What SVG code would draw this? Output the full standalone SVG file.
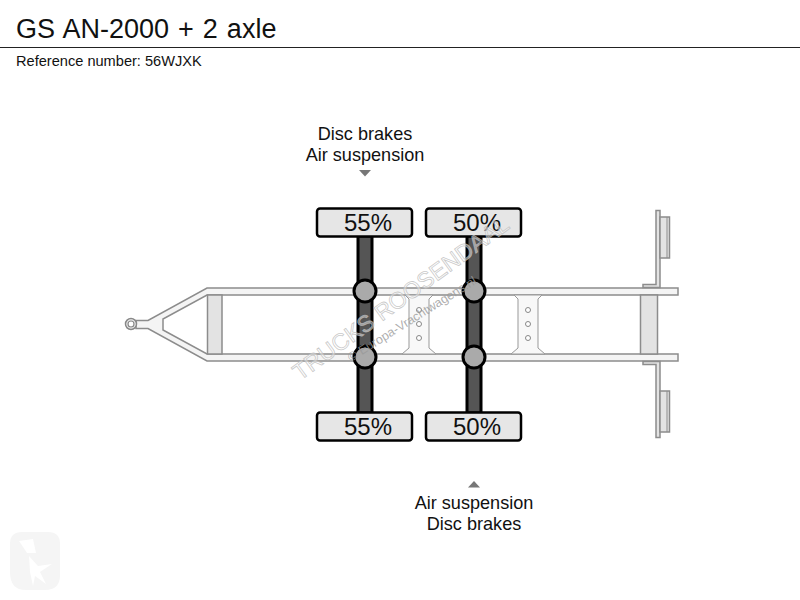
<svg xmlns="http://www.w3.org/2000/svg" width="800" height="600" viewBox="0 0 800 600">
<style>
text{font-family:"Liberation Sans",Arial,sans-serif;fill:#111}
.lbl{font-size:18.100px;text-anchor:middle}
.pct{font-size:24px;text-anchor:middle}
.frame{fill:#f4f4f4;stroke:#8c8c8c;stroke-width:1.5}
.bar{fill:#e3e3e3;stroke:#8c8c8c;stroke-width:1.5}
.cross{fill:#f8f8f8;stroke:#999;stroke-width:1}
.hole{fill:#fff;stroke:#888;stroke-width:1}
.axle{fill:#555;stroke:#000;stroke-width:3}
.hub{fill:#aaa;stroke:#000;stroke-width:3}
.box{fill:#e6e6e6;stroke:#000;stroke-width:2.5}
.tri{fill:#777}
</style>
<rect width="800" height="600" fill="#fff"/>
<g id="header">
<text x="16" y="38" style="font-size:27px;word-spacing:1.500px">GS AN-2000 + 2 axle</text>
<line x1="0" y1="47.500" x2="800" y2="47.500" stroke="#222" stroke-width="1"/>
<text x="16" y="66" style="font-size:14.600px">Reference number: 56WJXK</text>
</g>
<g id="logo">
<path d="M22 532H48Q60 532 60 544V575Q60 590 45 590H26Q10 590 10 572V544Q10 532 22 532Z" fill="#f5f5f5"/>
<path d="M19 541L33 539L36 553L27 553ZM29 556L38 566L52 564L40 572L46 584L35 576L33 586L30 572Z" fill="#fff"/>
</g>
<g id="chassis">
<path class="frame" d="M207 288H678V295H207L163 319V330L207 354H678V361H207L148 328.500H136V320.500H148Z"/>
<rect class="bar" x="207.500" y="295" width="14.500" height="59"/>
<rect class="bar" x="640.500" y="295" width="17" height="59"/>
<circle cx="131" cy="324" r="5.500" fill="#eee" stroke="#888" stroke-width="1.500"/>
<circle cx="131" cy="324" r="3" fill="#fff" stroke="#888" stroke-width="1.200"/>
</g>
<g id="cross-members">
<path class="cross" d="M405 295L409 299V348L402 354H436L429 348V299L433 295Z"/>
<path class="cross" d="M514 295L518 299V348L511 354H545L538 348V299L542 295Z"/>
<circle class="hole" cx="419" cy="310" r="2.500"/><circle class="hole" cx="419" cy="324" r="2.500"/><circle class="hole" cx="419" cy="338" r="2.500"/>
<circle class="hole" cx="528" cy="310" r="2.500"/><circle class="hole" cx="528" cy="324" r="2.500"/><circle class="hole" cx="528" cy="338" r="2.500"/>
</g>
<g id="rear-top">
<path class="bar" d="M656 210.500H660V287.500H643V284.500H656Z"/>
<rect class="bar" x="660" y="217" width="9.500" height="41"/>
<line x1="667" y1="217" x2="667" y2="258" stroke="#8c8c8c"/>
</g>
<g id="rear-bottom">
<path class="bar" d="M656 437.500H660V361.500H643V364.500H656Z"/>
<rect class="bar" x="660" y="391" width="9.500" height="41"/>
<line x1="667" y1="391" x2="667" y2="432" stroke="#8c8c8c"/>
</g>
<g id="axle-1">
<rect class="axle" x="358" y="236" width="14" height="177"/>
<circle class="hub" cx="365" cy="291" r="11"/>
<circle class="hub" cx="365" cy="357" r="11"/>
<rect class="box" x="317" y="208.500" width="95" height="28" rx="3"/>
<rect class="box" x="317" y="412.500" width="95" height="28" rx="3"/>
<text class="pct" x="368" y="231">55%</text>
<text class="pct" x="368" y="435">55%</text>
</g>
<g id="axle-2">
<rect class="axle" x="467" y="236" width="14" height="177"/>
<circle class="hub" cx="474" cy="291" r="11"/>
<circle class="hub" cx="474" cy="357" r="11"/>
<rect class="box" x="426" y="208.500" width="95" height="28" rx="3"/>
<rect class="box" x="426" y="412.500" width="95" height="28" rx="3"/>
<text class="pct" x="477" y="231">50%</text>
<text class="pct" x="477" y="435">50%</text>
</g>
<g id="label-top">
<text class="lbl" x="365" y="140">Disc brakes</text>
<text class="lbl" x="365" y="161">Air suspension</text>
<path class="tri" d="M359 170H371L365 176.500Z"/>
</g>
<g id="label-bottom">
<path class="tri" d="M468 487.500H480L474 481Z"/>
<text class="lbl" x="474" y="509">Air suspension</text>
<text class="lbl" x="474" y="530">Disc brakes</text>
</g>
<g id="watermark">
<text transform="translate(300 381) rotate(-36)" style="font-size:23px;fill:#fff;fill-opacity:.45;stroke:#bbb;stroke-width:.8;stroke-opacity:.8">TRUCKS ROOSENDAAL</text>
<text transform="translate(351 362) rotate(-32)" style="font-size:12.500px;fill:#999;fill-opacity:.8">© Europa-Vrachtwagens.nl</text>
</g>
</svg>
